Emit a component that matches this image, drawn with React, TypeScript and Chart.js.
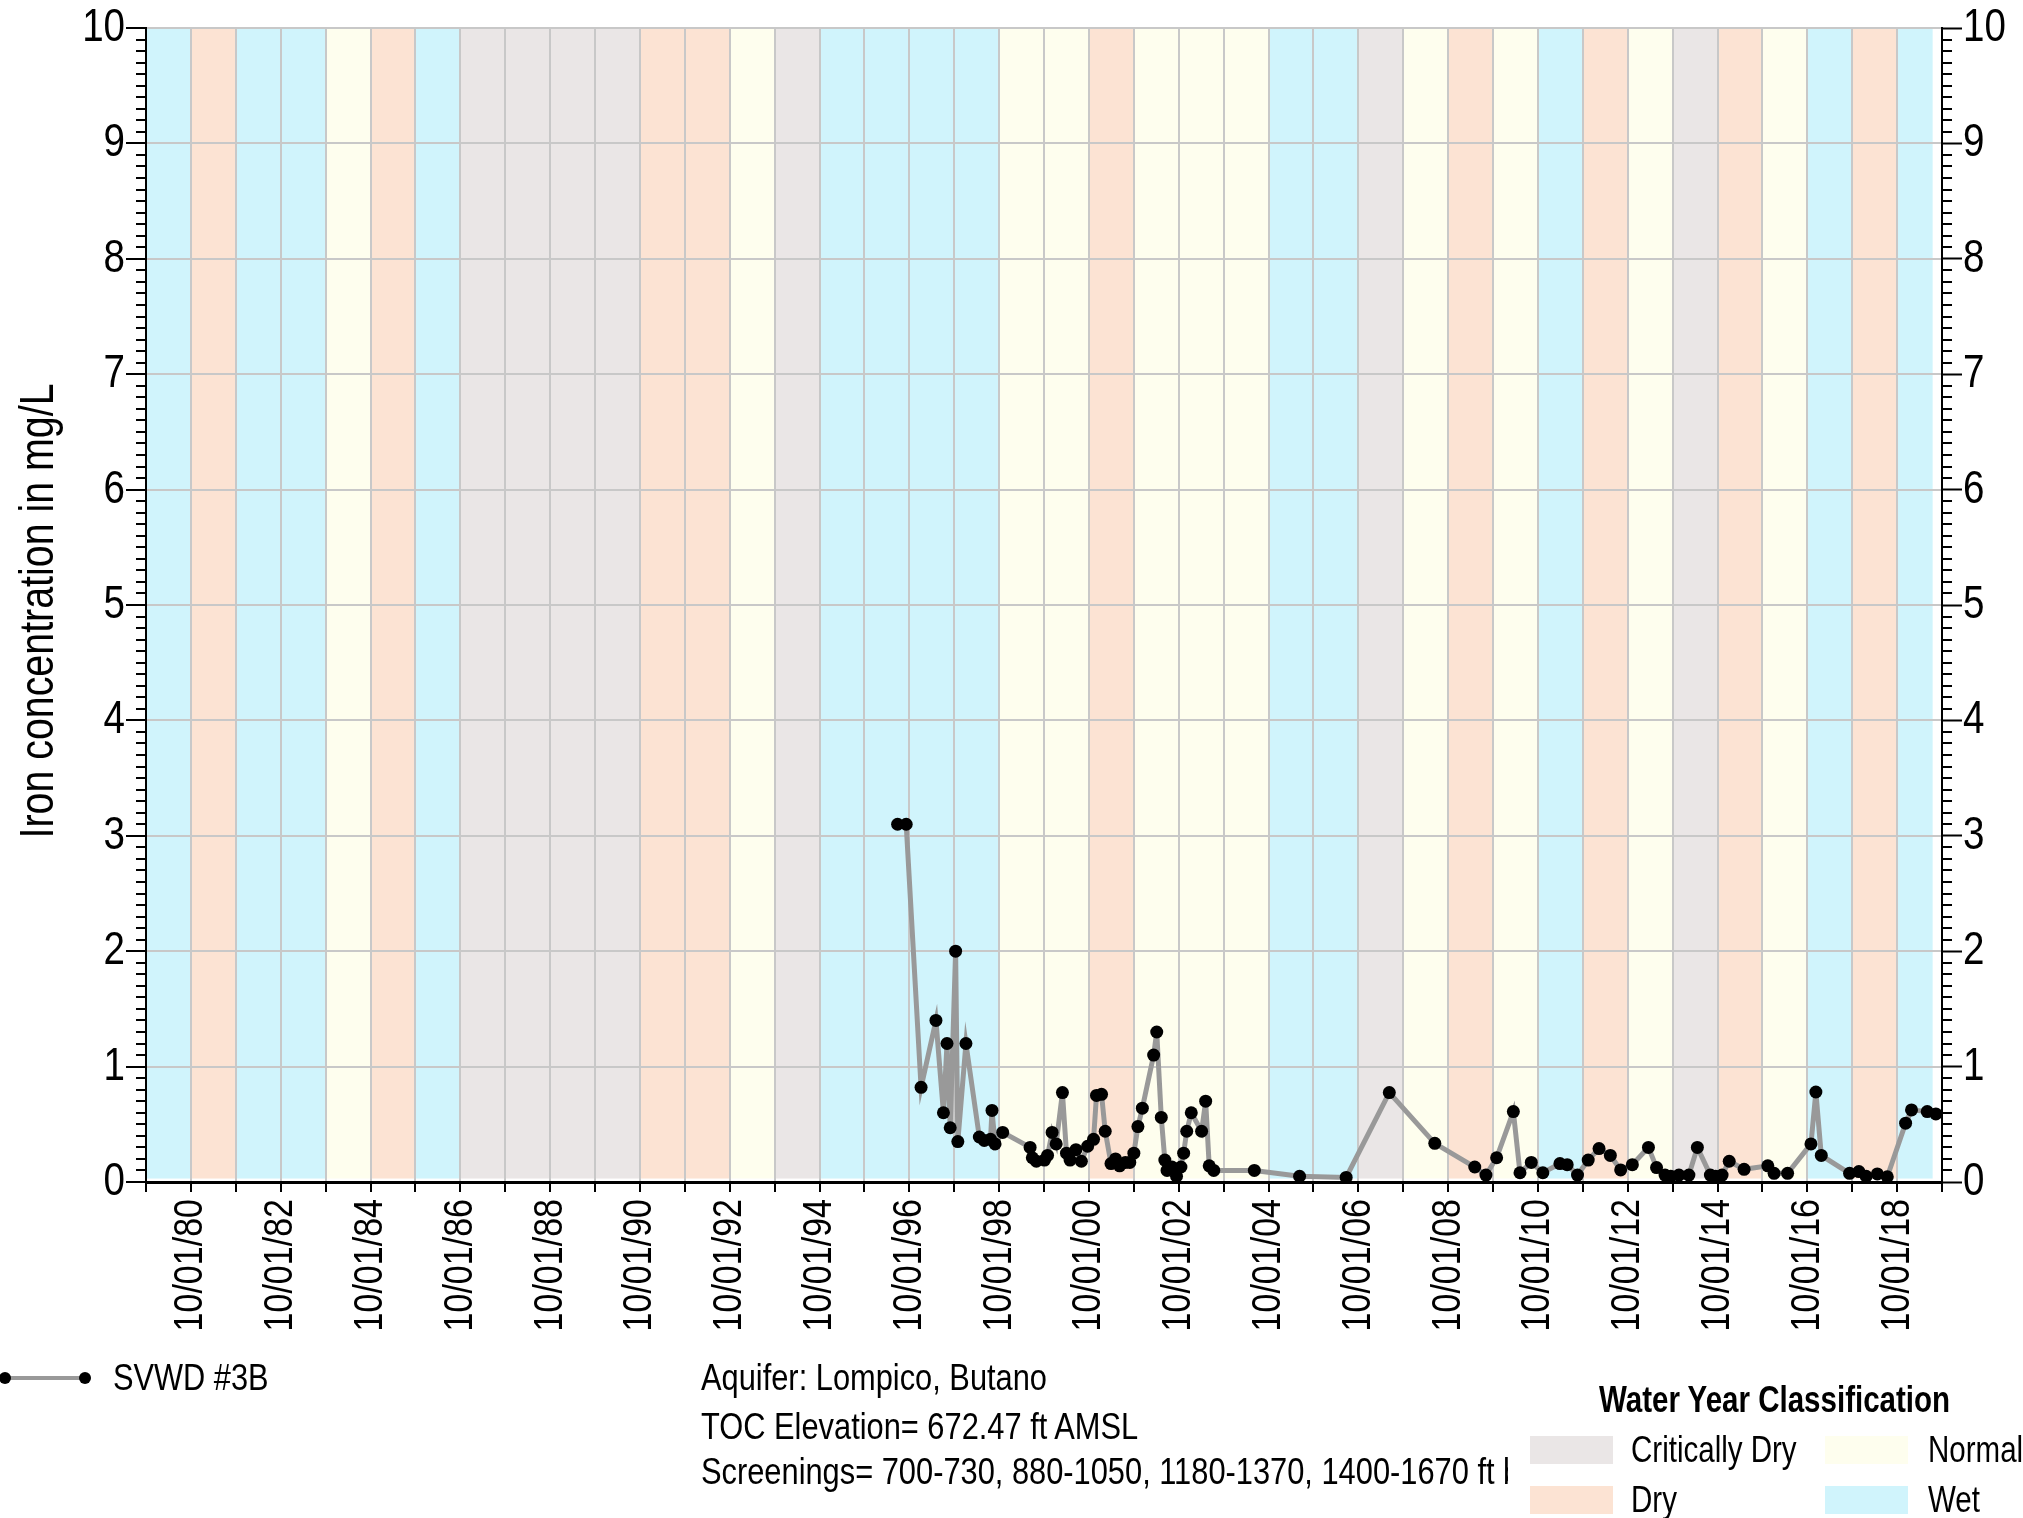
import React, { useEffect, useRef } from 'react';
import { Chart, registerables } from 'chart.js';

Chart.register(...registerables);

// Arial-Narrow-like rendering: Liberation Sans (Arial metrics) squeezed horizontally
const BASE_FONT = '"Liberation Sans", Arial, sans-serif';
const NARROW = 0.82;

// ---- Data -----------------------------------------------------------------
const seriesName = 'SVWD #3B';
const yAxisTitle = 'Iron concentration in mg/L';

const sampleDates = [
  '1996-06-27', '1996-09-05', '1997-01-04', '1997-05-05', '1997-07-05', '1997-08-03',
  '1997-08-29', '1997-10-12', '1997-10-30', '1998-01-04', '1998-04-23', '1998-06-02',
  '1998-07-23', '1998-08-04', '1998-08-29', '1998-10-30', '1999-06-10', '1999-06-28',
  '1999-07-31', '1999-10-05', '1999-10-30', '1999-12-06', '2000-01-08', '2000-02-28',
  '2000-04-01', '2000-04-30', '2000-06-17', '2000-07-31', '2000-09-20', '2000-11-07',
  '2000-12-01', '2001-01-11', '2001-02-10', '2001-03-29', '2001-05-05', '2001-06-07',
  '2001-07-24', '2001-08-29', '2001-10-01', '2001-11-03', '2001-12-09', '2002-03-11',
  '2002-04-05', '2002-05-12', '2002-06-10', '2002-06-28', '2002-08-07', '2002-09-13',
  '2002-10-19', '2002-11-10', '2002-12-05', '2003-01-11', '2003-04-05', '2003-05-08',
  '2003-06-06', '2003-07-13', '2004-06-07', '2005-06-10', '2006-06-24', '2007-06-10',
  '2008-06-14', '2009-05-05', '2009-08-04', '2009-10-30', '2010-03-15', '2010-05-08',
  '2010-08-08', '2010-11-10', '2011-03-29', '2011-05-27', '2011-08-19', '2011-11-14',
  '2012-02-10', '2012-05-12', '2012-08-04', '2012-11-07', '2013-03-18', '2013-05-23',
  '2013-07-31', '2013-09-16', '2013-11-21', '2014-02-10', '2014-04-20', '2014-08-04',
  '2014-09-16', '2014-11-07', '2015-01-04', '2015-05-05', '2015-11-14', '2016-01-04',
  '2016-04-23', '2016-10-30', '2016-12-09', '2017-01-22', '2017-09-09', '2017-11-24',
  '2018-01-22', '2018-04-23', '2018-07-13', '2018-12-09', '2019-01-26', '2019-06-03',
  '2019-08-12',
];

const ironMgL = [
  3.1, 3.1, 0.82, 1.4, 0.6, 1.2,
  0.47, 2.0, 0.35, 1.2, 0.39, 0.36,
  0.37, 0.62, 0.33, 0.43, 0.3, 0.21,
  0.18, 0.19, 0.23, 0.43, 0.33, 0.775,
  0.25, 0.19, 0.28, 0.18, 0.31, 0.37,
  0.75, 0.76, 0.44, 0.16, 0.2, 0.14,
  0.17, 0.17, 0.25, 0.48, 0.64, 1.1,
  1.3, 0.56, 0.19, 0.1, 0.13, 0.05,
  0.13, 0.25, 0.44, 0.6, 0.44, 0.7,
  0.14, 0.1, 0.1, 0.05, 0.04, 0.775,
  0.335, 0.13, 0.06, 0.21, 0.61, 0.08,
  0.17, 0.08, 0.16, 0.15, 0.06, 0.19,
  0.29, 0.23, 0.105, 0.15, 0.3, 0.125,
  0.06, 0.05, 0.06, 0.06, 0.3, 0.06,
  0.05, 0.06, 0.18, 0.11, 0.14, 0.075,
  0.075, 0.33, 0.78, 0.23, 0.075, 0.09,
  0.05, 0.07, 0.045, 0.51, 0.625, 0.61,
  0.59,
];

// Water years start on 10/01 of the listed year
const waterYearStarts = [
  1979, 1980, 1981, 1982, 1983, 1984, 1985, 1986, 1987, 1988,
  1989, 1990, 1991, 1992, 1993, 1994, 1995, 1996, 1997, 1998,
  1999, 2000, 2001, 2002, 2003, 2004, 2005, 2006, 2007, 2008,
  2009, 2010, 2011, 2012, 2013, 2014, 2015, 2016, 2017, 2018,
];
const waterYearTypes = [
  'Wet', 'Dry', 'Wet', 'Wet', 'Normal', 'Dry', 'Wet', 'Critically Dry', 'Critically Dry', 'Critically Dry',
  'Critically Dry', 'Dry', 'Dry', 'Normal', 'Critically Dry', 'Wet', 'Wet', 'Wet', 'Wet', 'Normal',
  'Normal', 'Dry', 'Normal', 'Normal', 'Normal', 'Wet', 'Wet', 'Critically Dry', 'Normal', 'Dry',
  'Normal', 'Wet', 'Dry', 'Normal', 'Critically Dry', 'Dry', 'Normal', 'Wet', 'Dry', 'Wet',
];
const classificationOrder = ['Critically Dry', 'Normal', 'Dry', 'Wet'];
const bandEndDate = '2019-07-17';

const axisStartDate = '1979-10-01';
const axisEndDate = '2019-10-01';
const xTickYears = [
  1979, 1980, 1981, 1982, 1983, 1984, 1985, 1986, 1987, 1988,
  1989, 1990, 1991, 1992, 1993, 1994, 1995, 1996, 1997, 1998,
  1999, 2000, 2001, 2002, 2003, 2004, 2005, 2006, 2007, 2008,
  2009, 2010, 2011, 2012, 2013, 2014, 2015, 2016, 2017, 2018, 2019,
];
const yTickValues = [0, 1, 2, 3, 4, 5, 6, 7, 8, 9, 10];

const infoLines = [
  'Aquifer: Lompico, Butano',
  'TOC Elevation= 672.47 ft AMSL',
  'Screenings= 700-730, 880-1050, 1180-1370, 1400-1670 ft bgs',
];

// ---- Styles ----------------------------------------------------------------
const classColors: Record<string, string> = {
  'Critically Dry': '#EAE6E6',
  Normal: '#FEFEEE',
  Dry: '#FCE3D3',
  Wet: '#D0F4FC',
};

const toMs = (d: string) => Date.parse(d + 'T00:00:00Z');
const oct1 = (y: number) => Date.UTC(y, 9, 1);

const xLabel = (v: number) => {
  const yr = new Date(v).getUTCFullYear();
  if (yr % 2 !== 0) return '';
  return `10/01/${String(yr % 100).padStart(2, '0')}`;
};

function narrowText(
  ctx: CanvasRenderingContext2D,
  text: string,
  x: number,
  y: number,
  size: number,
  align: CanvasTextAlign,
  rotation = 0,
) {
  ctx.save();
  ctx.translate(x, y);
  if (rotation) ctx.rotate(rotation);
  ctx.scale(NARROW, 1);
  ctx.font = `${size}px ${BASE_FONT}`;
  ctx.textAlign = align;
  ctx.textBaseline = 'middle';
  ctx.fillStyle = '#000';
  ctx.fillText(text, 0, 0);
  ctx.restore();
}

const bandsPlugin = {
  id: 'waterYearBands',
  beforeDraw(chart: any) {
    const { ctx } = chart;
    const x = chart.scales.x;
    const y = chart.scales.y;
    const yTop = y.getPixelForValue(10);
    const yBot = y.getPixelForValue(0.03);
    ctx.save();
    waterYearStarts.forEach((yr, i) => {
      const x0 = x.getPixelForValue(oct1(yr));
      const x1 =
        i < waterYearStarts.length - 1
          ? x.getPixelForValue(oct1(waterYearStarts[i + 1]))
          : x.getPixelForValue(toMs(bandEndDate));
      ctx.fillStyle = classColors[waterYearTypes[i]];
      ctx.fillRect(x0, yTop, x1 - x0, yBot - yTop);
    });
    ctx.restore();
  },
};

const axisDecorPlugin = {
  id: 'axisDecor',
  afterDraw(chart: any) {
    const { ctx, chartArea } = chart;
    const x = chart.scales.x;
    const y = chart.scales.y;
    // minor ticks (0.1 units) on both value axes
    ctx.save();
    ctx.strokeStyle = '#000';
    ctx.lineWidth = 2;
    ctx.beginPath();
    for (let i = 1; i < 100; i++) {
      if (i % 10 === 0) continue;
      const py = Math.round(y.getPixelForValue(i / 10));
      ctx.moveTo(chartArea.left - 10, py);
      ctx.lineTo(chartArea.left, py);
      ctx.moveTo(chartArea.right, py);
      ctx.lineTo(chartArea.right + 10, py);
    }
    ctx.stroke();
    ctx.restore();

    // value axis labels, both sides
    yTickValues.forEach((v) => {
      const py = y.getPixelForValue(v);
      narrowText(ctx, String(v), chartArea.left - 21, py, 47, 'right');
      narrowText(ctx, String(v), chartArea.right + 21, py, 47, 'left');
    });

    // date labels, rotated
    xTickYears.forEach((yr) => {
      const label = xLabel(oct1(yr));
      if (!label) return;
      const px = x.getPixelForValue(oct1(yr));
      narrowText(ctx, label, px, chartArea.bottom + 17, 41.5, 'right', -Math.PI / 2);
    });

    // axis title
    narrowText(
      ctx,
      yAxisTitle,
      40,
      (chartArea.top + chartArea.bottom) / 2 + 6,
      48,
      'center',
      -Math.PI / 2,
    );
  },
};

const Narrow: React.FC<{
  left: number;
  top: number;
  size: number;
  bold?: boolean;
  children: React.ReactNode;
}> = ({ left, top, size, bold, children }) => (
  <div
    style={{
      position: 'absolute',
      left,
      top,
      fontFamily: BASE_FONT,
      fontSize: size,
      fontWeight: bold ? 'bold' : 'normal',
      lineHeight: 1,
      color: '#000',
      whiteSpace: 'nowrap',
      transform: `scaleX(${NARROW})`,
      transformOrigin: '0 0',
    }}
  >
    {children}
  </div>
);

export default function App() {
  const canvasRef = useRef<HTMLCanvasElement | null>(null);

  useEffect(() => {
    if (!canvasRef.current) return;
    const points = sampleDates.map((d, i) => ({ x: toMs(d), y: ironMgL[i] }));
    const chart = new Chart(canvasRef.current, {
      type: 'line',
      data: {
        datasets: [
          {
            label: seriesName,
            data: points,
            borderColor: '#999999',
            borderWidth: 5,
            pointRadius: 6.5,
            pointBackgroundColor: '#000000',
            pointBorderWidth: 0,
            tension: 0,
            fill: false,
          },
        ],
      },
      options: {
        animation: false,
        responsive: true,
        maintainAspectRatio: false,
        devicePixelRatio: 1,
        events: [],
        layout: { padding: { top: 28, left: 0, right: 0, bottom: 0 } },
        plugins: {
          legend: { display: false },
          tooltip: { enabled: false },
          title: { display: false },
        },
        scales: {
          x: {
            type: 'linear',
            min: toMs(axisStartDate),
            max: toMs(axisEndDate),
            afterBuildTicks: (scale: any) => {
              scale.ticks = xTickYears.map((yr) => ({ value: oct1(yr) }));
            },
            afterFit: (scale: any) => {
              scale.height = 336;
            },
            ticks: { display: false, autoSkip: false },
            grid: {
              color: '#C8C8C8',
              lineWidth: 2,
              drawTicks: true,
              tickLength: 10,
              tickColor: '#000',
              tickWidth: 2,
            },
            border: { display: true, color: '#000', width: 3 },
          },
          y: {
            type: 'linear',
            position: 'left',
            min: 0,
            max: 10,
            afterBuildTicks: (scale: any) => {
              scale.ticks = yTickValues.map((v) => ({ value: v }));
            },
            afterFit: (scale: any) => {
              scale.width = 146;
            },
            ticks: { display: false },
            grid: {
              color: '#C8C8C8',
              lineWidth: 2,
              tickLength: 20,
              tickColor: '#000',
              tickWidth: 2,
            },
            border: { display: true, color: '#000', width: 2 },
          },
          y2: {
            type: 'linear',
            position: 'right',
            min: 0,
            max: 10,
            afterBuildTicks: (scale: any) => {
              scale.ticks = yTickValues.map((v) => ({ value: v }));
            },
            afterFit: (scale: any) => {
              scale.width = 81;
            },
            ticks: { display: false },
            grid: {
              drawOnChartArea: false,
              tickLength: 20,
              tickColor: '#000',
              tickWidth: 2,
            },
            border: { display: true, color: '#000', width: 2 },
          },
        },
      } as any,
      plugins: [bandsPlugin, axisDecorPlugin],
    });
    return () => chart.destroy();
  }, []);

  const legendBoxes = [
    { name: classificationOrder[0], boxLeft: 1530, textLeft: 1631, top: 1436 },
    { name: classificationOrder[1], boxLeft: 1825, textLeft: 1928, top: 1436 },
    { name: classificationOrder[2], boxLeft: 1530, textLeft: 1631, top: 1486 },
    { name: classificationOrder[3], boxLeft: 1825, textLeft: 1928, top: 1486 },
  ];

  return (
    <div
      style={{
        position: 'absolute',
        left: 0,
        top: 0,
        width: 2023,
        height: 1518,
        background: '#fff',
        overflow: 'hidden',
      }}
    >
      <canvas
        ref={canvasRef}
        style={{ position: 'absolute', left: 0, top: 0, width: 2023, height: 1518 }}
      />

      {/* Series legend */}
      <div style={{ position: 'absolute', left: 5, top: 1376, width: 80, height: 4, background: '#999' }} />
      <div style={{ position: 'absolute', left: -1, top: 1372, width: 12, height: 12, borderRadius: '50%', background: '#000' }} />
      <div style={{ position: 'absolute', left: 79, top: 1372, width: 12, height: 12, borderRadius: '50%', background: '#000' }} />
      <Narrow left={113} top={1359} size={37.5}>{seriesName}</Narrow>

      {/* Well info */}
      <Narrow left={701} top={1359} size={37.6}>{infoLines[0]}</Narrow>
      <Narrow left={701} top={1408} size={37.6}>{infoLines[1]}</Narrow>
      <div style={{ position: 'absolute', left: 701, top: 1445, width: 807, height: 50, overflow: 'hidden' }}>
        <Narrow left={0} top={8} size={37.6}>{infoLines[2]}</Narrow>
      </div>

      {/* Water year classification legend */}
      <Narrow left={1599} top={1382} size={36} bold>
        Water Year Classification
      </Narrow>
      {legendBoxes.map((b) => (
        <React.Fragment key={b.name}>
          <div
            style={{
              position: 'absolute',
              left: b.boxLeft,
              top: b.top,
              width: 83,
              height: 28,
              background: classColors[b.name],
            }}
          />
          <Narrow left={b.textLeft} top={b.top - 4} size={36}>{b.name}</Narrow>
        </React.Fragment>
      ))}
    </div>
  );
}
